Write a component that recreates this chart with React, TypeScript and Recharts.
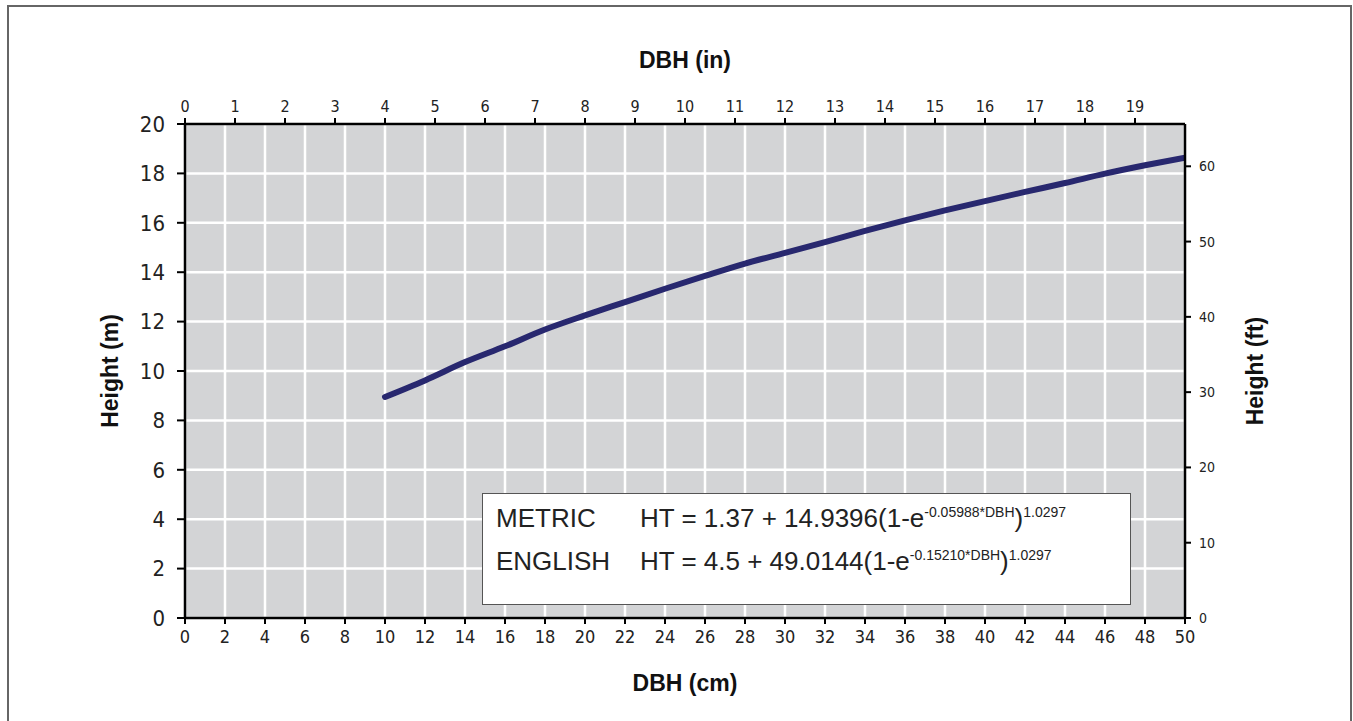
import React from 'react';
import { LineChart, Line, XAxis, YAxis, CartesianGrid, Label } from 'recharts';

const dbhCm = [10, 12, 14, 16, 18, 20, 22, 24, 26, 28, 30, 32, 34, 36, 38, 40, 42, 44, 46, 48, 50];
const heightM = [8.95, 9.62, 10.36, 11.0, 11.68, 12.25, 12.79, 13.33, 13.85, 14.35, 14.78, 15.22, 15.67, 16.1, 16.5, 16.88, 17.25, 17.61, 17.99, 18.33, 18.64];

const cmTicks = [0, 2, 4, 6, 8, 10, 12, 14, 16, 18, 20, 22, 24, 26, 28, 30, 32, 34, 36, 38, 40, 42, 44, 46, 48, 50];
const mTicks = [0, 2, 4, 6, 8, 10, 12, 14, 16, 18, 20];
const inTicks = [0, 1, 2, 3, 4, 5, 6, 7, 8, 9, 10, 11, 12, 13, 14, 15, 16, 17, 18, 19];
const ftTicks = [0, 10, 20, 30, 40, 50, 60];

const CM_MAX = 50;
const M_MAX = 20;
const IN_MAX = CM_MAX / 2.54;
const FT_MAX = M_MAX / 0.3048;

const data = dbhCm.map((d, i) => ({ dbh: d, ht: heightM[i] }));

const NARROW = "'Liberation Sans Narrow', 'DejaVu Sans Condensed', 'Arial Narrow', sans-serif";
const SANS = "'Liberation Sans', Arial, sans-serif";
const AXIS = { stroke: '#000', strokeWidth: 2.5 };
const TICKLINE = { stroke: '#000', strokeWidth: 2 };
const titleStyle = { fontFamily: SANS, fontWeight: 700, fontSize: 23, fill: '#111' };

export default function App() {
  return (
    <div style={{ position: 'absolute', left: 0, top: 0, width: 1353, height: 721, background: '#fff', overflow: 'hidden' }}>
      <div style={{ position: 'absolute', left: 7, top: 5, width: 1341, height: 740, border: '2px solid #666' }} />
      <LineChart
        width={1353}
        height={721}
        data={data}
        margin={{ top: 94, right: 108, bottom: 73, left: 125 }}
      >
        <CartesianGrid
          xAxisId="cm"
          yAxisId="m"
          fill="#d3d4d6"
          stroke="#ffffff"
          strokeWidth={2.5}
        />
        <XAxis
          xAxisId="cm"
          dataKey="dbh"
          type="number"
          domain={[0, CM_MAX]}
          ticks={cmTicks}
          interval={0}
          allowDataOverflow
          height={30}
          axisLine={AXIS}
          tickLine={TICKLINE}
          tickSize={6}
          tickMargin={6}
          tick={{ fontFamily: NARROW, fontSize: 18, fill: '#222' }}
        >
          <Label value="DBH (cm)" position="center" dy={50} style={titleStyle} />
        </XAxis>
        <XAxis
          xAxisId="in"
          orientation="top"
          type="number"
          domain={[0, IN_MAX]}
          ticks={inTicks}
          interval={0}
          allowDataOverflow
          height={30}
          axisLine={AXIS}
          tickLine={TICKLINE}
          tickSize={6}
          tickMargin={6}
          tick={{ fontFamily: NARROW, fontSize: 16, fill: '#222' }}
        >
          <Label value="DBH (in)" position="center" dy={-49} style={titleStyle} />
        </XAxis>
        <YAxis
          yAxisId="m"
          type="number"
          domain={[0, M_MAX]}
          ticks={mTicks}
          interval={0}
          allowDataOverflow
          width={60}
          axisLine={AXIS}
          tickLine={TICKLINE}
          tickSize={8}
          tickMargin={12}
          tick={{ fontFamily: NARROW, fontSize: 22, fill: '#222' }}
        >
          <Label value="Height (m)" angle={-90} position="center" dx={-45} style={titleStyle} />
        </YAxis>
        <YAxis
          yAxisId="ft"
          orientation="right"
          type="number"
          domain={[0, FT_MAX]}
          ticks={ftTicks}
          interval={0}
          allowDataOverflow
          width={60}
          axisLine={AXIS}
          tickLine={TICKLINE}
          tickSize={6}
          tickMargin={8}
          tick={{ fontFamily: NARROW, fontSize: 14, fill: '#222' }}
        >
          <Label value="Height (ft)" angle={-90} position="center" dx={40} style={titleStyle} />
        </YAxis>
        <Line
          xAxisId="cm"
          yAxisId="m"
          dataKey="ht"
          type="monotone"
          stroke="#28286f"
          strokeWidth={6}
          strokeLinecap="round"
          dot={false}
          activeDot={false}
          isAnimationActive={false}
        />
      </LineChart>
      <div
        style={{
          position: 'absolute',
          left: 482,
          top: 493,
          width: 647,
          height: 110,
          background: '#fff',
          border: '1.5px solid #555',
          fontFamily: SANS,
          color: '#222',
          fontSize: 26,
        }}
      >
        <div style={{ position: 'absolute', left: 13, top: 9, whiteSpace: 'nowrap' }}>METRIC</div>
        <div style={{ position: 'absolute', left: 157, top: 9, whiteSpace: 'nowrap' }}>
          HT = 1.37 + 14.9396(1-e<sup style={{ fontSize: 14 }}>-0.05988*DBH</sup>)<sup style={{ fontSize: 14 }}>1.0297</sup>
        </div>
        <div style={{ position: 'absolute', left: 13, top: 52, whiteSpace: 'nowrap' }}>ENGLISH</div>
        <div style={{ position: 'absolute', left: 157, top: 52, whiteSpace: 'nowrap' }}>
          HT = 4.5 + 49.0144(1-e<sup style={{ fontSize: 14 }}>-0.15210*DBH</sup>)<sup style={{ fontSize: 14 }}>1.0297</sup>
        </div>
      </div>
    </div>
  );
}
